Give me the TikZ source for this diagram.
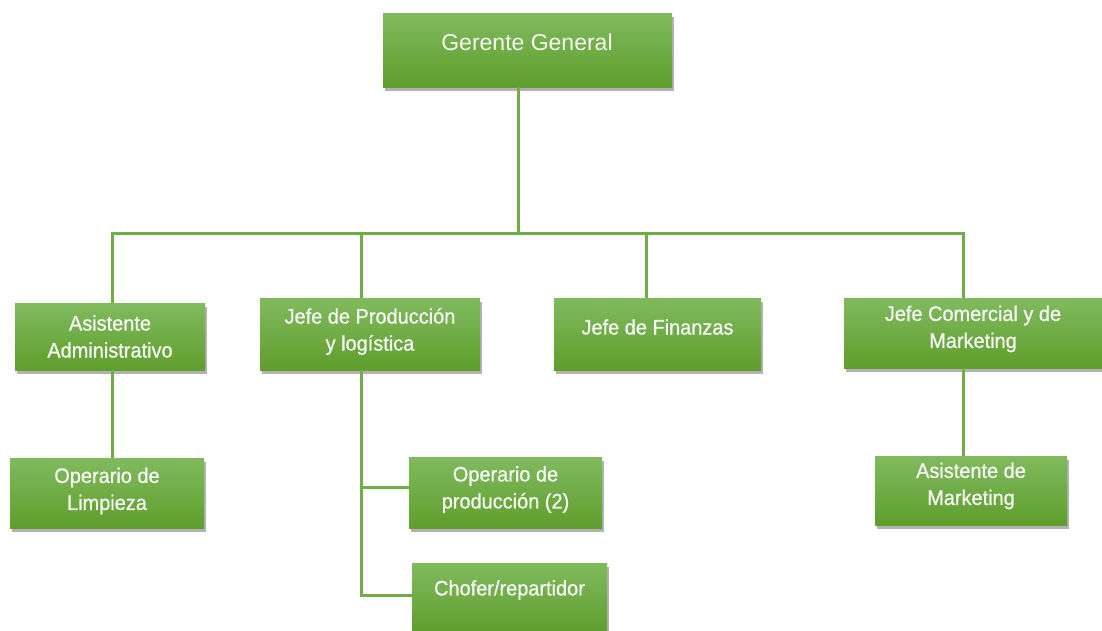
\documentclass[tikz,border=0pt]{standalone}
\usepackage{fontspec}
\setmainfont{Liberation Sans}
\newfontfamily\boxfont[FakeStretch=0.95,FakeBold=0.8]{Liberation Sans}
\usetikzlibrary{shadows}
\definecolor{gtop}{HTML}{80BA5E}
\definecolor{gbot}{HTML}{5F9E2C}
\definecolor{lnk}{HTML}{70AD47}
\definecolor{txt}{HTML}{F7F7F7}
\tikzset{
  box/.style={rectangle, inner sep=0pt, top color=gtop, bottom color=gbot,
    draw=none, drop shadow={shadow xshift=1.5pt, shadow yshift=-3.5pt, opacity=0.3, fill=black}},
  lbl/.style={text=txt, align=center, inner sep=0pt, font=\boxfont\fontsize{21}{27}\selectfont},
  toplbl/.style={text=txt, align=center, inner sep=0pt, font=\fontsize{23}{28}\selectfont},
  conn/.style={draw=lnk, line width=3pt}
}
\begin{document}
\begin{tikzpicture}[x=1pt, y=-1pt]
\useasboundingbox (0,0) rectangle (1102,630);

% boxes
\node[box, minimum width=289, minimum height=74] (gg) at (527.5,50) {};
\node[box, minimum width=190, minimum height=67] (aa) at (110,336.5) {};
\node[box, minimum width=220, minimum height=72] (jp) at (370,334) {};
\node[box, minimum width=207, minimum height=72] (jf) at (657.5,334) {};
\node[box, minimum width=258, minimum height=70] (jc) at (973,333) {};
\node[box, minimum width=194, minimum height=70] (ol) at (107,493) {};
\node[box, minimum width=193, minimum height=71] (op) at (505.5,492.5) {};
\node[box, minimum width=195, minimum height=70] (ch) at (509.5,598) {};
\node[box, minimum width=192, minimum height=69] (am) at (971,490.5) {};

% texts
\node[toplbl] (gg-t) at (527,42) {Gerente General};
\node[lbl] (aa-t) at (110,336.5) {Asistente\\Administrativo};
\node[lbl] (jp-t) at (370,331.5) {Jefe de Producción\\y logística};
\node[lbl] (jf-t) at (657.5,327) {Jefe de Finanzas};
\node[lbl] (jc-t) at (973,329) {Jefe Comercial y de\\Marketing};
\node[lbl] (ol-t) at (107,491) {Operario de\\Limpieza};
\node[lbl] (op-t) at (505.5,489.5) {Operario de\\producción (2)};
\node[lbl] (ch-t) at (509.5,590) {Chofer/repartidor};
\node[lbl] (am-t) at (971,486) {Asistente de\\Marketing};

% drop points on the main bus
\coordinate (bGG) at (518,233);
\coordinate (bAA) at (112,233);
\coordinate (bJP) at (361,233);
\coordinate (bJF) at (646,233);
\coordinate (bJC) at (963,233);
% branch points under production
\coordinate (kOP) at (361,487);
\coordinate (kCH) at (361,595);

% connectors
\draw[conn] (bGG |- gg.south) -- (bGG);
\draw[conn, line cap=rect] (bAA) -- (bJC);
\draw[conn] (bAA) -- (bAA |- aa.north);
\draw[conn] (bJP) -- (bJP |- jp.north);
\draw[conn] (bJF) -- (bJF |- jf.north);
\draw[conn] (bJC) -- (bJC |- jc.north);
\draw[conn] (bAA |- aa.south) -- (bAA |- ol.north);
\draw[conn] (bJC |- jc.south) -- (bJC |- am.north);
\draw[conn, line join=miter] (bJP |- jp.south) -- (kCH) -- (kCH -| ch.west);
\draw[conn] (kOP) -- (kOP -| op.west);
\end{tikzpicture}
\end{document}
